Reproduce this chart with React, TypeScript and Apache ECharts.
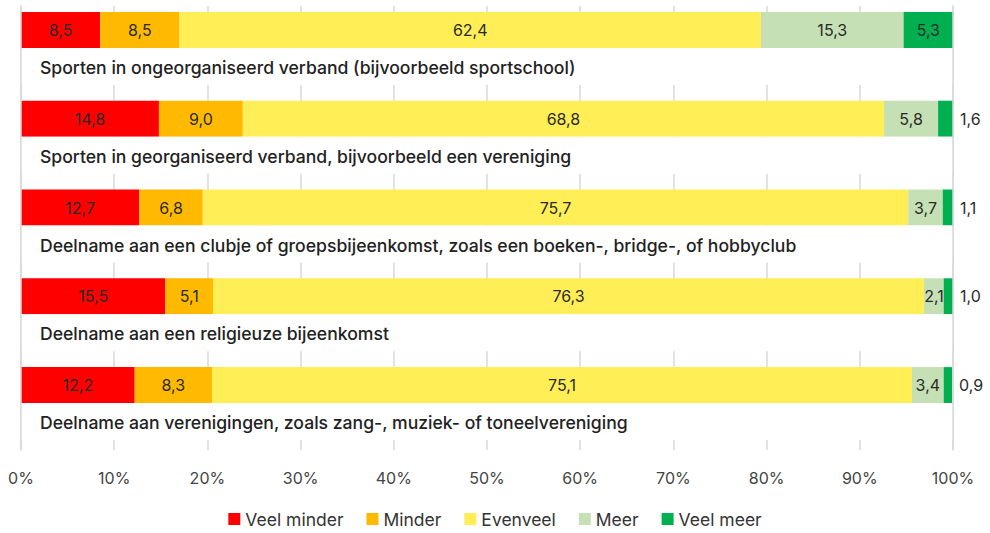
import React, { useEffect, useRef } from "react";
import * as echarts from "echarts";

const categories = [
  "Sporten in ongeorganiseerd verband (bijvoorbeeld sportschool)",
  "Sporten in georganiseerd verband, bijvoorbeeld een vereniging",
  "Deelname aan een clubje of groepsbijeenkomst, zoals een boeken-, bridge-, of hobbyclub",
  "Deelname aan een religieuze bijeenkomst",
  "Deelname aan verenigingen, zoals zang-, muziek- of toneelvereniging",
];
const seriesNames = ["Veel minder", "Minder", "Evenveel", "Meer", "Veel meer"];
const veelMinder = [8.5, 14.8, 12.7, 15.5, 12.2];
const minder = [8.5, 9.0, 6.8, 5.1, 8.3];
const evenveel = [62.4, 68.8, 75.7, 76.3, 75.1];
const meer = [15.3, 5.8, 3.7, 2.1, 3.4];
const veelMeer = [5.3, 1.6, 1.1, 1.0, 0.9];
const colors = ["#FF0000", "#FFBA00", "#FFEE55", "#C5E0B4", "#00B050"];
const xTicks = [0, 10, 20, 30, 40, 50, 60, 70, 80, 90, 100];

const FONT = "Inter";

export default function App() {
  const ref = useRef<HTMLDivElement>(null);
  useEffect(() => {
    if (!ref.current) return;
    const chart = echarts.init(ref.current, null, { renderer: "svg" });
    const values = [veelMinder, minder, evenveel, meer, veelMeer];
    const fmt = (v: number) => v.toFixed(1).replace(".", ",");
    const stacked = values.map((arr, si) => ({
      name: seriesNames[si],
      type: "bar",
      stack: "total",
      barWidth: 36,
      barGap: 0,
      yAxisIndex: 0,
      itemStyle: { color: colors[si] },
      data: arr.map((v) => ({
        value: v,
        label: {
          show: true,
          position: v < 2 ? "right" : "inside",
          distance: 7,
          formatter: () => fmt(v),
          fontFamily: FONT,
          fontSize: 16,
          color: "#2a2a2a",
        },
      })),
    }));
    const labelSeries = {
      name: "_label",
      type: "bar",
      barWidth: 37,
      barGap: 0,
      silent: true,
      itemStyle: { color: "#ffffff" },
      data: categories.map(() => 100),
      label: {
        show: true,
        position: "insideLeft",
        distance: 19,
        offset: [0, 1],
        formatter: (p: any) => categories[p.dataIndex],
        fontFamily: FONT,
        fontSize: 17.6,
        fontWeight: 500,
        color: "#222",
      },
    };
    const spacer = {
      name: "_spacer",
      type: "bar",
      barWidth: 4,
      barGap: 0,
      silent: true,
      itemStyle: { color: "transparent" },
      data: categories.map(() => 100),
    };
    chart.setOption({
      animation: false,
      textStyle: { fontFamily: FONT },
      grid: { left: 21, right: 37, top: 6, bottom: 83, containLabel: false },
      legend: {
        data: seriesNames,
        bottom: 0,
        left: "center",
        icon: "rect",
        itemWidth: 12,
        itemHeight: 12,
        itemGap: 23,
        textStyle: { fontFamily: FONT, fontSize: 17.5, color: "#333" },
      },
      xAxis: {
        type: "value",
        min: 0,
        max: 100,
        interval: 10,
        axisLine: { show: false },
        axisTick: { show: false },
        splitLine: { show: true, lineStyle: { color: "#d9d9d9", width: 1.5 } },
        axisLabel: {
          formatter: (v: number) => (xTicks.includes(v) ? v + "%" : ""),
          fontFamily: FONT,
          fontSize: 16,
          color: "#444",
          margin: 20,
        },
      },
      yAxis: [
        {
          type: "category",
          inverse: true,
          data: categories,
          z: 5,
          axisLine: { show: true, lineStyle: { color: "#d9d9d9", width: 1.5 } },
          axisTick: { show: false },
          axisLabel: { show: false },
          splitLine: { show: false },
        },
        {
          type: "category",
          inverse: true,
          position: "right",
          data: categories,
          z: 5,
          axisLine: { show: true, lineStyle: { color: "#d9d9d9", width: 1.5 } },
          axisTick: { show: false },
          axisLabel: { show: false },
          splitLine: { show: false },
        },
      ],
      series: [...stacked, labelSeries, spacer],
    });
    return () => chart.dispose();
  }, []);
  return (
    <div
      ref={ref}
      style={{ position: "absolute", left: 0, top: 0, width: 990, height: 533 }}
    />
  );
}
